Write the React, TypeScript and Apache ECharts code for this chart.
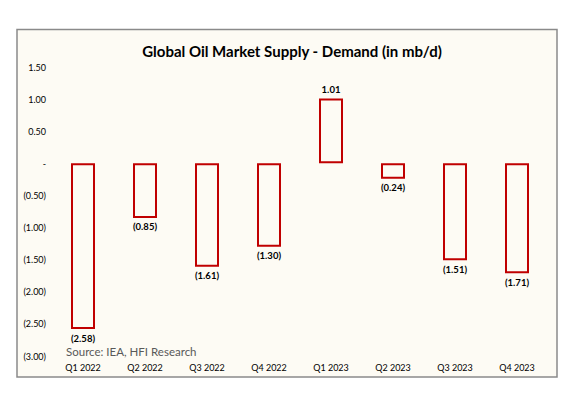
import React, { useEffect, useRef } from "react";
import * as echarts from "echarts";

const categories = ["Q1 2022", "Q2 2022", "Q3 2022", "Q4 2022", "Q1 2023", "Q2 2023", "Q3 2023", "Q4 2023"];
const balance = [-2.58, -0.85, -1.61, -1.3, 1.01, -0.24, -1.51, -1.71];
const titleText = "Global Oil Market Supply - Demand (in mb/d)";
const sourceText = "Source: IEA, HFI Research";

const fmt = (v: number) => {
  if (Math.abs(v) < 1e-9) return "-";
  const s = Math.abs(v).toFixed(2);
  return v < 0 ? `(${s})` : s;
};

const FONT = "Lato, 'Liberation Sans', sans-serif";

export default function App() {
  const ref = useRef<HTMLDivElement>(null);
  useEffect(() => {
    if (!ref.current) return;
    const chart = echarts.init(ref.current, undefined, { renderer: "svg" });
    chart.setOption({
      animation: false,
      backgroundColor: "#ffffff",
      graphic: [
        {
          type: "rect",
          z: -10,
          shape: { x: 17, y: 29.5, width: 540, height: 347.5 },
          style: { fill: "#FDFBF4", stroke: "#8a8a8a", lineWidth: 1.5 },
          silent: true,
        },
        {
          type: "text",
          left: 66,
          top: 345,
          style: { text: sourceText, fill: "#595959", font: `11.5px ${FONT}` },
        },
      ],
      title: {
        text: titleText,
        left: 287,
        textAlign: "center",
        top: 38,
        textStyle: { fontFamily: FONT, fontSize: 15, fontWeight: "bold", color: "#000" },
      },
      grid: { left: 52, right: 38, top: 67, bottom: 37 },
      xAxis: {
        type: "category",
        data: categories,
        axisLine: { show: false },
        axisTick: { show: false },
        axisLabel: { margin: 7, fontFamily: FONT, fontSize: 9, color: "#000" },
      },
      yAxis: {
        type: "value",
        min: -3,
        max: 1.5,
        interval: 0.5,
        splitLine: { show: false },
        axisLine: { show: false },
        axisTick: { show: false },
        axisLabel: { margin: 6, fontFamily: FONT, fontSize: 9, color: "#000", formatter: (v: number) => fmt(v) },
      },
      series: [
        {
          type: "bar",
          barWidth: 24,
          data: balance.map((v) => ({
            value: v,
            label: { position: v < 0 ? "bottom" : "top" },
          })),
          itemStyle: { color: "rgba(0,0,0,0)", borderColor: "#C00000", borderWidth: 2 },
          label: {
            show: true,
            distance: 4,
            fontFamily: FONT,
            fontSize: 9.5,
            fontWeight: "bold",
            color: "#000",
            formatter: (p: any) => fmt(p.value),
          },
        },
      ],
    });
    return () => chart.dispose();
  }, []);
  return (
    <div
      ref={ref}
      style={{ position: "absolute", left: 0, top: 0, width: 586, height: 393 }}
    />
  );
}
